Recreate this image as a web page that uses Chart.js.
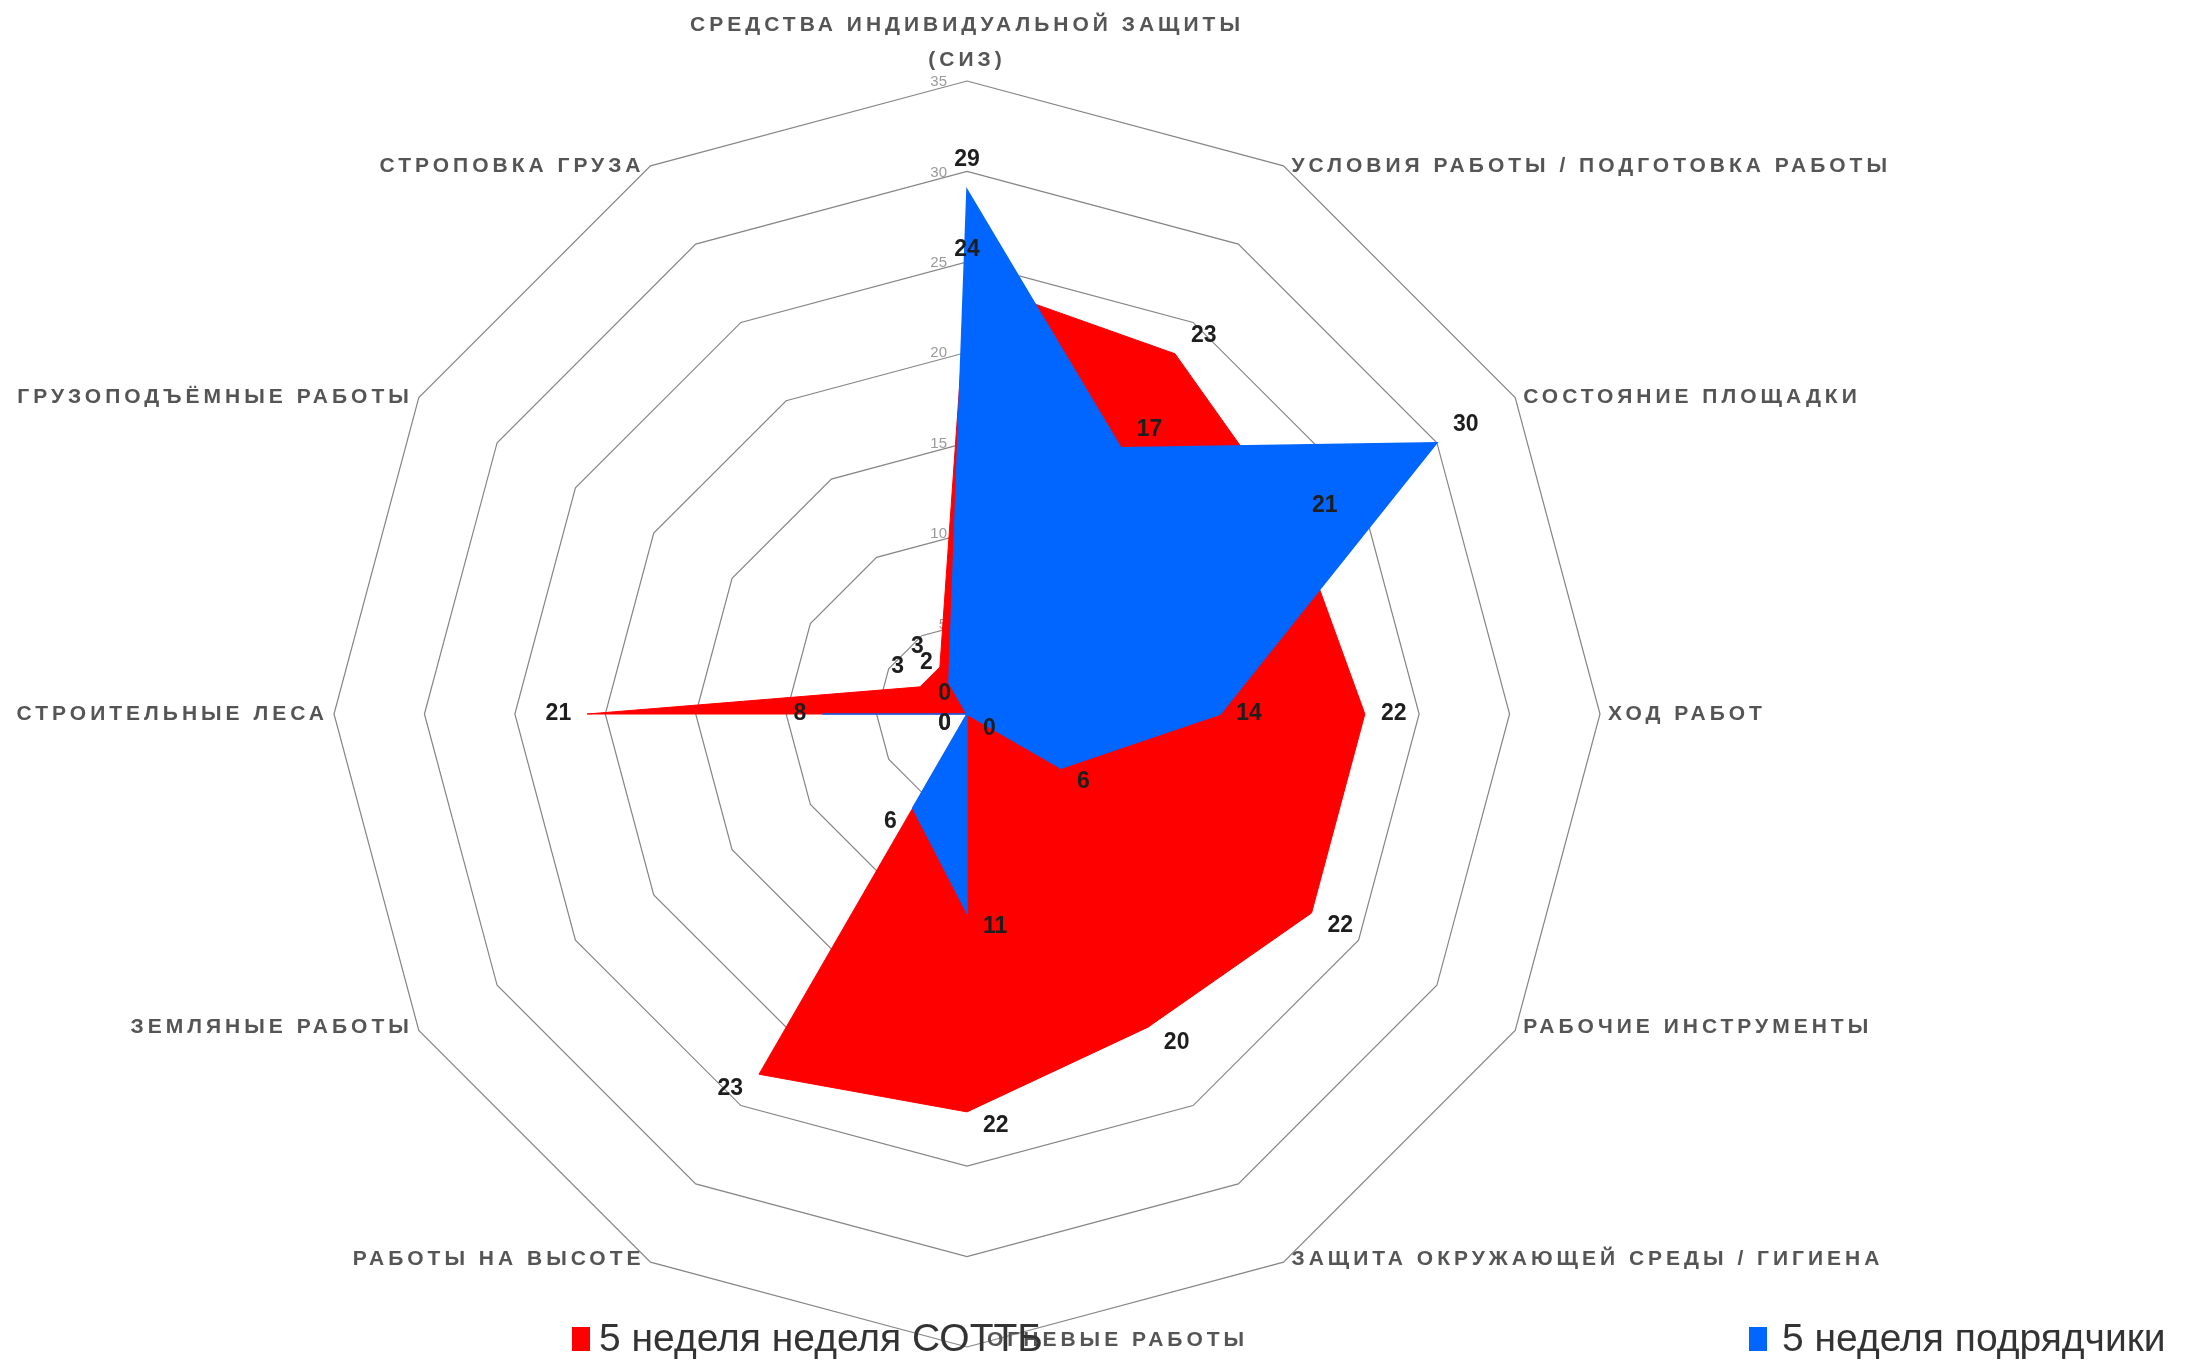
<!DOCTYPE html>
<html><head><meta charset="utf-8">
<script src="https://cdn.jsdelivr.net/npm/chart.js@4.4.1/dist/chart.umd.min.js"></script>
<style>html,body{margin:0;padding:0;background:#fff;overflow:hidden}canvas{display:block}</style>
</head><body>
<canvas id="c" width="2209" height="1363"></canvas>
<script>
const categories = [
  ['СРЕДСТВА ИНДИВИДУАЛЬНОЙ ЗАЩИТЫ', '(СИЗ)'],
  'УСЛОВИЯ РАБОТЫ / ПОДГОТОВКА РАБОТЫ',
  'СОСТОЯНИЕ ПЛОЩАДКИ',
  'ХОД РАБОТ',
  'РАБОЧИЕ ИНСТРУМЕНТЫ',
  'ЗАЩИТА ОКРУЖАЮЩЕЙ СРЕДЫ / ГИГИЕНА',
  'ОГНЕВЫЕ РАБОТЫ',
  'РАБОТЫ НА ВЫСОТЕ',
  'ЗЕМЛЯНЫЕ РАБОТЫ',
  'СТРОИТЕЛЬНЫЕ ЛЕСА',
  'ГРУЗОПОДЪЁМНЫЕ РАБОТЫ',
  'СТРОПОВКА ГРУЗА'
];
const seriesNames = ['5 неделя неделя СОТТБ', '5 неделя подрядчики'];
const sottbValues = [24, 23, 21, 22, 22, 20, 22, 23, 0, 21, 3, 3];
const contractorValues = [29, 17, 30, 14, 6, 0, 11, 6, 0, 8, 0, 2];
const tickValues = [5, 10, 15, 20, 25, 30, 35];

const seriesColors = ['#ff0000', '#0066ff'];
const FONT = '"Liberation Sans", Arial, sans-serif';

const overlay = {
  id: 'overlay',
  beforeDatasetsDraw(chart) {
    const ctx = chart.ctx, r = chart.scales.r;
    ctx.save();
    ctx.font = '15px ' + FONT;
    ctx.fillStyle = '#9a9a9a';
    ctx.textAlign = 'right';
    ctx.textBaseline = 'middle';
    tickValues.forEach(v => {
      const d = r.getDistanceFromCenterForValue(v);
      ctx.fillText(String(v), r.xCenter - 20, r.yCenter - d + 1);
    });
    // point labels
    ctx.font = 'bold 21px ' + FONT;
    ctx.fillStyle = '#555555';
    try { ctx.letterSpacing = '4px'; } catch (e) {}
    const n = categories.length;
    for (let i = 0; i < n; i++) {
      const p = r.getPointPosition(i, r.drawingArea);
      const lab = categories[i];
      if (i === 0) {
        ctx.textAlign = 'center';
        ctx.fillText(lab[0], p.x, p.y - 56);
        ctx.fillText(lab[1], p.x, p.y - 21);
      } else if (i === 6) {
        ctx.textAlign = 'left';
        ctx.fillText(lab, p.x + 20, p.y - 7);
      } else if (i < 6) {
        ctx.textAlign = 'left';
        ctx.fillText(lab, p.x + 8, p.y - (i >= 4 ? 3 : 0));
      } else {
        ctx.textAlign = 'right';
        ctx.fillText(lab, p.x - 6, p.y - (i <= 8 ? 3 : 0));
      }
    }
    ctx.restore();
  },
  afterDatasetsDraw(chart) {
    const ctx = chart.ctx;
    ctx.save();
    ctx.font = 'bold 23px ' + FONT;
    ctx.fillStyle = '#1e1e1e';
    ctx.textBaseline = 'middle';
    const dy = [-30, -18, -18, 0, 13, 15, 14, 14, 10, 0, -20, -20];
    chart.data.datasets.forEach((ds, di) => {
      const meta = chart.getDatasetMeta(di);
      meta.data.forEach((pt, i) => {
        let x = pt.x, y = pt.y + dy[i];
        if (i === 0) { ctx.textAlign = 'center'; }
        else if (i <= 6) { ctx.textAlign = 'left'; x += 16; }
        else { ctx.textAlign = 'right'; x -= 16; }
        ctx.fillText(String(ds.data[i]), x, y);
      });
    });
    ctx.restore();
  },
  afterDraw(chart) {
    const ctx = chart.ctx;
    ctx.save();
    ctx.font = '39px ' + FONT;
    ctx.textBaseline = 'middle';
    ctx.textAlign = 'left';
    const items = [{mx: 572, tx: 599}, {mx: 1749, tx: 1782}];
    chart.data.datasets.forEach((ds, di) => {
      ctx.fillStyle = ds.backgroundColor;
      ctx.fillRect(items[di].mx, 1327, 18, 24);
      ctx.fillStyle = '#333';
      ctx.fillText(ds.label, items[di].tx, 1340);
    });
    ctx.restore();
  }
};

new Chart(document.getElementById('c'), {
  type: 'radar',
  data: {
    labels: categories,
    datasets: [
      { label: seriesNames[0], data: sottbValues, backgroundColor: seriesColors[0], borderColor: seriesColors[0],
        borderWidth: 1, fill: true, pointRadius: 0, pointHoverRadius: 0, tension: 0, order: 1 },
      { label: seriesNames[1], data: contractorValues, backgroundColor: seriesColors[1], borderColor: seriesColors[1],
        borderWidth: 1.5, fill: true, pointRadius: 0, pointHoverRadius: 0, tension: 0, order: 0 }
    ]
  },
  options: {
    responsive: false,
    animation: false,
    devicePixelRatio: 1,
    events: [],
    layout: { padding: { left: 0, right: 275, top: 81, bottom: 16 } },
    plugins: { legend: { display: false }, tooltip: { enabled: false }, title: { display: false } },
    scales: {
      r: {
        min: 0, max: 35,
        ticks: { display: false, stepSize: 5 },
        pointLabels: { display: false },
        angleLines: { display: false },
        grid: { color: '#858585', lineWidth: 1.2, circular: false }
      }
    }
  },
  plugins: [overlay]
});
</script>
</body></html>
